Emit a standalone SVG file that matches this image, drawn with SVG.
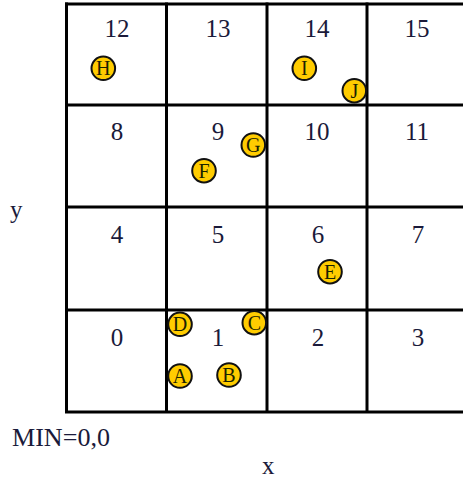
<svg xmlns="http://www.w3.org/2000/svg" width="463" height="481" viewBox="0 0 463 481">
<style>
.grid{stroke:#000;stroke-width:3;fill:none}
.num{font-family:"Liberation Serif","Times New Roman",serif;font-size:25px;fill:#1a1a3a;text-anchor:middle}
.pt circle{fill:#FFCC00;stroke:#111;stroke-width:2}
.pt text{font-family:"Liberation Serif","Times New Roman",serif;font-size:20px;fill:#1a2200;text-anchor:middle}
.lbl{font-family:"Liberation Serif","Times New Roman",serif;font-size:25px;fill:#1a1a3a}
</style>
<rect width="463" height="481" fill="#fff"/>
<g id="grid" class="grid">
<line x1="66.5" y1="2.5" x2="66.5" y2="412.5"/>
<line x1="166.5" y1="2.5" x2="166.5" y2="412.5"/>
<line x1="267" y1="2.5" x2="267" y2="412.5"/>
<line x1="367" y1="2.5" x2="367" y2="412.5"/>
<line x1="65" y1="4" x2="470" y2="4"/>
<line x1="65" y1="105" x2="470" y2="105"/>
<line x1="65" y1="207" x2="470" y2="207"/>
<line x1="65" y1="310" x2="470" y2="310"/>
<line x1="65" y1="412" x2="470" y2="412"/>
</g>
<g id="cells" class="num">
<text id="cell12" x="117" y="37">12</text>
<text id="cell13" x="218" y="37">13</text>
<text id="cell14" x="317" y="37">14</text>
<text id="cell15" x="417" y="37">15</text>
<text id="cell8" x="117" y="140">8</text>
<text id="cell9" x="218" y="140">9</text>
<text id="cell10" x="317" y="140">10</text>
<text id="cell11" x="417" y="140">11</text>
<text id="cell4" x="117" y="243">4</text>
<text id="cell5" x="218" y="243">5</text>
<text id="cell6" x="318" y="243">6</text>
<text id="cell7" x="418" y="243">7</text>
<text id="cell0" x="117" y="346">0</text>
<text id="cell1" x="218" y="346">1</text>
<text id="cell2" x="318" y="346">2</text>
<text id="cell3" x="418" y="346">3</text>
</g>
<g id="ptH" class="pt"><circle cx="103.3" cy="68.3" r="11.8"/><text x="103.3" y="75.3">H</text></g>
<g id="ptI" class="pt"><circle cx="304.3" cy="68.3" r="11.8"/><text x="304.3" y="75.3">I</text></g>
<g id="ptJ" class="pt"><circle cx="354.3" cy="90.7" r="11.8"/><text x="354.3" y="97.7">J</text></g>
<g id="ptG" class="pt"><circle cx="253.3" cy="145" r="11.8"/><text x="253.3" y="152">G</text></g>
<g id="ptF" class="pt"><circle cx="204" cy="170.7" r="11.8"/><text x="204" y="177.7">F</text></g>
<g id="ptE" class="pt"><circle cx="330" cy="271.7" r="11.8"/><text x="330" y="278.7">E</text></g>
<g id="ptD" class="pt"><circle cx="180" cy="324.3" r="11.8"/><text x="180" y="331.3">D</text></g>
<g id="ptC" class="pt"><circle cx="254.3" cy="322.7" r="11.8"/><text x="254.3" y="329.7">C</text></g>
<g id="ptA" class="pt"><circle cx="180" cy="376" r="11.8"/><text x="180" y="383">A</text></g>
<g id="ptB" class="pt"><circle cx="229" cy="375" r="11.8"/><text x="229" y="382">B</text></g>
<g id="labels" class="lbl">
<text x="10" y="218">y</text>
<text x="12" y="446" textLength="98" lengthAdjust="spacingAndGlyphs">MIN=0,0</text>
<text x="262" y="474">x</text>
</g>
</svg>
